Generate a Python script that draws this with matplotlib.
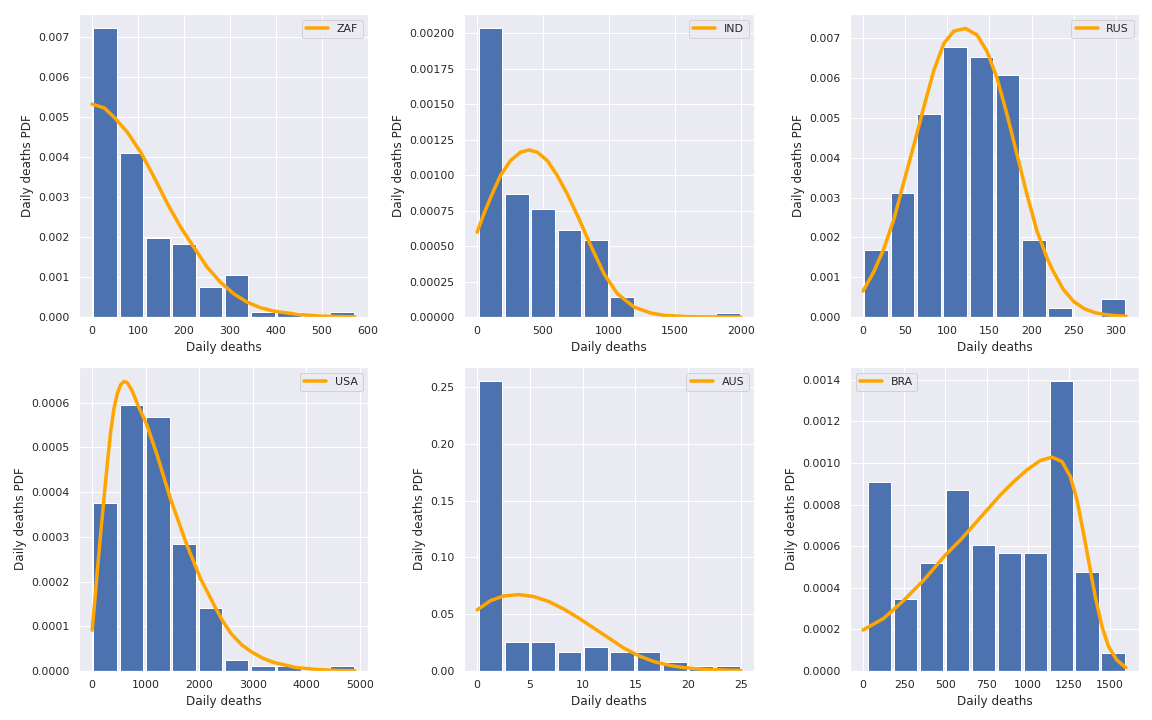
import numpy as np
import matplotlib
matplotlib.use("Agg")
import matplotlib.pyplot as plt
import seaborn as sns

sns.set_theme(context="notebook", style="darkgrid")

# ---- data ----
countries = ["ZAF", "IND", "RUS", "USA", "AUS", "BRA"]

# histogram ranges (min, max of daily deaths) and bar densities (10 bins each)
zaf_range = (0, 572)
zaf_dens = [0.00721, 0.00411, 0.00197, 0.00182, 0.00075, 0.00105, 0.000125, 0.000125, 0.0, 0.000125]
ind_range = (0, 2000)
ind_dens = [0.002033, 0.000865, 0.00076, 0.000612, 0.000544, 0.000143, 0.0, 0.0, 0.0, 0.000028]
rus_range = (0, 312)
rus_dens = [0.00168, 0.00312, 0.00509, 0.00679, 0.00654, 0.00607, 0.00193, 0.000226, 0.0, 0.000451]
usa_range = (0, 4910)
usa_dens = [0.000375, 0.000595, 0.000568, 0.000283, 0.000141, 0.0000252, 0.0000119, 0.0000110, 0.0, 0.0000119]
aus_range = (0, 25)
aus_dens = [0.255, 0.0258, 0.0259, 0.0170, 0.0212, 0.0170, 0.0170, 0.0083, 0.0040, 0.0040]
bra_range = (22, 1596)
bra_dens = [0.000909, 0.000346, 0.000521, 0.000868, 0.000608, 0.000565, 0.000565, 0.001392, 0.000476, 0.0000882]

# fitted PDF curves
zaf_cx = [0, 27, 48, 77, 106, 135, 164, 193, 221, 250, 279, 308, 337, 366, 394, 450, 500, 572]
zaf_cy = [0.00532, 0.00522, 0.00499, 0.00461, 0.00411, 0.00349, 0.00283, 0.00224, 0.00175, 0.00125,
          0.000873, 0.000582, 0.000374, 0.000233, 0.000150, 0.00006, 0.00002, 0.000005]

ind_cx = [0, 51, 114, 177, 253, 329, 392, 456, 532, 607, 683, 772, 861, 962, 1063, 1190, 1316, 1418,
          1600, 1800, 2000]
ind_cy = [0.000598, 0.000727, 0.000868, 0.000997, 0.001102, 0.001161, 0.001177, 0.001161, 0.001102,
          0.000997, 0.000868, 0.000692, 0.000504, 0.000305, 0.000164, 0.0000703, 0.0000283,
          0.0000117, 0.000002, 0.0000003, 0.0]

rus_cx = [0, 13, 25, 37, 48.5, 60.4, 72.2, 84.1, 95.9, 107.7, 121.6, 135.4, 147.3, 159.1, 171, 182.8,
          194.6, 206.5, 218.3, 225, 237.5, 250, 262.5, 275, 287.5, 300, 312]
rus_cy = [0.000651, 0.001153, 0.001737, 0.00249, 0.003409, 0.004328, 0.005288, 0.006207, 0.006876,
          0.007184, 0.007251, 0.007084, 0.006666, 0.005998, 0.005079, 0.004077, 0.003074, 0.002156,
          0.001487, 0.00118, 0.00070, 0.00039, 0.00021, 0.00011, 0.00006, 0.000035, 0.00002]

usa_cx = [0, 37, 100, 162, 212, 286, 348, 411, 473, 535, 597, 659, 753, 859, 1020, 1219, 1455, 1766,
          2027, 2307, 2450, 2600, 2800, 3000, 3200, 3400, 3800, 4200, 4600, 4910]
usa_cy = [0.0000912, 0.000139, 0.000228, 0.000310, 0.000374, 0.000466, 0.000536, 0.000588, 0.000621,
          0.000640, 0.000647, 0.000644, 0.000625, 0.000593, 0.000551, 0.000481, 0.000388, 0.000283,
          0.000206, 0.000141, 0.000110, 0.000083, 0.000058, 0.000041, 0.000028, 0.000019,
          0.0000080, 0.0000032, 0.0000012, 0.0000006]

aus_cx = [0, 1.27, 2.53, 3.96, 5.39, 6.81, 8.24, 9.67, 11.09, 12.52, 13.94, 15.37, 16.79, 18.22,
          19.64, 21.55, 23.45, 25]
aus_cy = [0.0538, 0.0620, 0.0661, 0.0673, 0.0655, 0.0611, 0.0544, 0.0464, 0.0376, 0.0288, 0.0200,
          0.0132, 0.0082, 0.0050, 0.0029, 0.0015, 0.0008, 0.0005]

bra_cx = [0, 125, 250, 375, 500, 591, 672, 753, 834, 915, 995, 1076, 1147, 1207, 1258, 1298, 1338,
          1379, 1409, 1450, 1490, 1540, 1595]
bra_cy = [0.000197, 0.000253, 0.000342, 0.000443, 0.000558, 0.000630, 0.000702, 0.000775, 0.000847,
          0.000911, 0.000967, 0.001012, 0.001028, 0.001007, 0.000935, 0.000823, 0.000662, 0.000486,
          0.000358, 0.000213, 0.000117, 0.0000529, 0.0000160]

panels = [
    ("ZAF", zaf_range, zaf_dens, zaf_cx, zaf_cy, "upper right"),
    ("IND", ind_range, ind_dens, ind_cx, ind_cy, "upper right"),
    ("RUS", rus_range, rus_dens, rus_cx, rus_cy, "upper right"),
    ("USA", usa_range, usa_dens, usa_cx, usa_cy, "upper right"),
    ("AUS", aus_range, aus_dens, aus_cx, aus_cy, "upper right"),
    ("BRA", bra_range, bra_dens, bra_cx, bra_cy, "upper left"),
]

# ---- layout (pixel rectangles of the axes) ----
W, H = 1152, 720
col_left = [79, 464, 850]
col_w = [289, 290, 289]
row_bottom = [H - 317, H - 671]
row_h = [303, 304]

fig = plt.figure(figsize=(W / 72, H / 72), dpi=72)

for i, (name, rng, dens, cx, cy, loc) in enumerate(panels):
    r, c = divmod(i, 3)
    ax = fig.add_axes([col_left[c] / W, row_bottom[r] / H, col_w[c] / W, row_h[r] / H])
    edges = np.linspace(rng[0], rng[1], 11)
    centers = (edges[:-1] + edges[1:]) / 2
    ax.hist(centers, bins=edges, weights=dens, rwidth=0.9, color="#4C72B0")
    ax.plot(cx, cy, color="orange", lw=3.5, label=name, solid_joinstyle="round")
    ax.set_xlabel("Daily deaths")
    ax.set_ylabel("Daily deaths PDF")
    ax.legend(loc=loc)

fig.savefig("out.png", dpi=72)
